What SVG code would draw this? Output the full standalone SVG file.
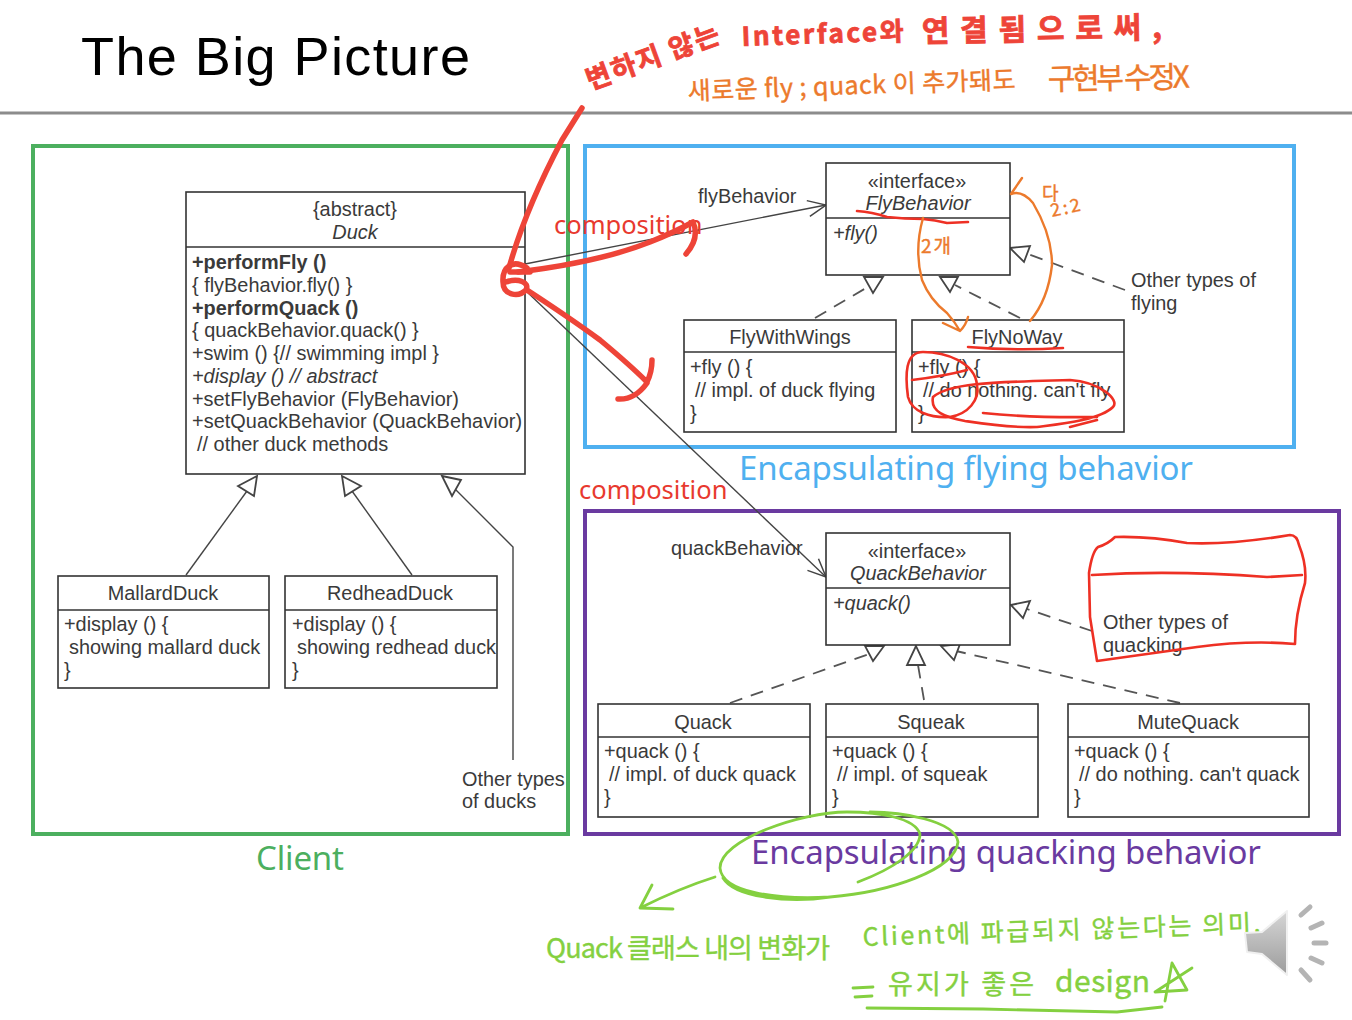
<svg xmlns="http://www.w3.org/2000/svg" width="1352" height="1020" viewBox="0 0 1352 1020">
<style>
text{font-family:"Liberation Sans",Arial,sans-serif;font-size:19.9px;fill:#3a3a3a}
.c{text-anchor:middle}.b{font-weight:bold}.i{font-style:italic}
.box{fill:#fff;stroke:#333;stroke-width:1.6}
.div{stroke:#333;stroke-width:1.6;fill:none}
.ln{stroke:#444;stroke-width:1.4;fill:none}
.ds{stroke:#555;stroke-width:1.8;fill:none;stroke-dasharray:13 9}
.tri{fill:#fff;stroke:#444;stroke-width:1.8}
.big{font-family:"Noto Sans","Open Sans",sans-serif;font-size:33px}
.comp{font-family:"Noto Sans","Open Sans",sans-serif;font-size:25.5px;fill:#e8392e}
.hw{font-family:"Noto Sans CJK KR","Noto Sans",sans-serif}
.red{fill:none;stroke:#ee4438;stroke-width:5.5;stroke-linecap:round;stroke-linejoin:round}
.rd2{fill:none;stroke:#ee3024;stroke-width:2.6;stroke-linecap:round;stroke-linejoin:round}
.or{fill:none;stroke:#ec7a2c;stroke-width:2.4;stroke-linecap:round;stroke-linejoin:round}
.gr{fill:none;stroke:#84d040;stroke-width:2.8;stroke-linecap:round;stroke-linejoin:round}
.rt{fill:#ee4438;stroke:#ee4438;stroke-width:.8;font-weight:bold}
.ot{fill:#ec7a2c;stroke:#ec7a2c;stroke-width:.4}
.gt{fill:#84d040;stroke:#84d040;stroke-width:.4}
</style>
<defs>
<linearGradient id="sp" x1="0" y1="0" x2="0" y2="1"><stop offset="0" stop-color="#d6d6d6"/><stop offset="1" stop-color="#9c9c9c"/></linearGradient>
<marker id="op" markerWidth="22" markerHeight="18" refX="19" refY="9" orient="auto" markerUnits="userSpaceOnUse"><path d="M1,1 L19,9 L1,17" fill="none" stroke="#444" stroke-width="1.5"/></marker>
</defs>
<rect width="1352" height="1020" fill="#fff"/>
<g id="title"><text x="81" y="75" style="font-size:54px;fill:#000" textLength="389">The Big Picture</text>
<line x1="0" y1="113" x2="1352" y2="113" stroke="#8c8c8c" stroke-width="3"/></g>
<g id="regions" fill="none" stroke-width="4">
<rect x="33" y="146" width="535" height="688" stroke="#4caf5f"/>
<rect x="585" y="146" width="709" height="301" stroke="#4fb0f0"/>
<rect x="585" y="511" width="754" height="323" stroke="#6a3aa0"/>
</g>
<g id="connectors">
<path class="ln" marker-end="url(#op)" d="M525,264 L826,205"/>
<path class="ln" marker-end="url(#op)" d="M525,290 L826,577"/>
<path class="ln" d="M186,575 L247,491"/><path class="ln" d="M412,575 L352,491"/>
<path class="ln" d="M513,760 L513,547 L454,488"/>
<path class="ds" d="M815,318 L866,288"/><path class="ds" d="M1020,318 L955,285"/>
<path class="ds" d="M1125,290 L1028,254"/><path class="ds" d="M1092,631 L1027,609"/>
<path class="ds" d="M730,703 L869,654"/><path class="ds" d="M924,700 L918,665"/>
<path class="ds" d="M1180,703 L956,651"/>
<polygon class="tri" points="257,476 238,486 254,496"/>
<polygon class="tri" points="342,476 361,486 345,496"/>
<polygon class="tri" points="442,476 461,480 452,496"/>
<polygon class="tri" points="864,277 883,277 873,293"/>
<polygon class="tri" points="940,277 958,277 950,292"/>
<polygon class="tri" points="1010,248 1030,246 1024,262"/>
<polygon class="tri" points="1011,605 1030,601 1023,618"/>
<polygon class="tri" points="865,646 884,646 873,661"/>
<polygon class="tri" points="916,646 907,665 925,665"/>
<polygon class="tri" points="941,646 960,644 954,660"/>
</g>
<g id="duck"><rect class="box" x="186" y="192" width="339" height="282"/><line class="div" x1="186" y1="247" x2="525" y2="247"/>
<text class="c" x="355" y="216">{abstract}</text><text class="c i" x="355" y="239">Duck</text>
<text class="b" x="192" y="269">+performFly ()</text>
<text x="192" y="292">{  flyBehavior.fly() }</text>
<text class="b" x="192" y="315">+performQuack ()</text>
<text x="192" y="337">{  quackBehavior.quack() }</text>
<text x="192" y="360">+swim () {// swimming impl }</text>
<text class="i" x="192" y="383">+display () // abstract</text>
<text x="192" y="406">+setFlyBehavior (FlyBehavior)</text>
<text x="192" y="428" textLength="330">+setQuackBehavior (QuackBehavior)</text>
<text x="197" y="451">// other duck methods</text></g>
<g id="mallard"><rect class="box" x="58" y="576" width="211" height="112"/><line class="div" x1="58" y1="610" x2="269" y2="610"/>
<text class="c" x="163" y="600">MallardDuck</text><text x="64" y="631">+display () {</text><text x="69" y="654">showing mallard duck</text><text x="64" y="677">}</text></g>
<g id="redhead"><rect class="box" x="285" y="576" width="212" height="112"/><line class="div" x1="285" y1="610" x2="497" y2="610"/>
<text class="c" x="390" y="600">RedheadDuck</text><text x="292" y="631">+display () {</text><text x="297" y="654">showing redhead duck</text><text x="292" y="677">}</text></g>
<g id="otherducks"><text x="462" y="786">Other types</text><text x="462" y="808">of ducks</text></g>
<g id="flybehavior"><rect class="box" x="826" y="163" width="184" height="112"/><line class="div" x1="826" y1="218" x2="1010" y2="218"/>
<text class="c" x="917" y="188">«interface»</text><text class="c i" x="918" y="210">FlyBehavior</text><text class="i" x="833" y="240">+fly()</text></g>
<g id="flywithwings"><rect class="box" x="684" y="320" width="212" height="112"/><line class="div" x1="684" y1="352" x2="896" y2="352"/>
<text class="c" x="790" y="344">FlyWithWings</text><text x="690" y="374">+fly () {</text><text x="695" y="397">// impl. of duck flying</text><text x="690" y="420">}</text></g>
<g id="flynoway"><rect class="box" x="912" y="320" width="212" height="112"/><line class="div" x1="912" y1="352" x2="1124" y2="352"/>
<text class="c" x="1017" y="344">FlyNoWay</text><text x="918" y="374">+fly () {</text><text x="923" y="397">// do nothing. can't fly</text><text x="918" y="420">}</text></g>
<g id="labels">
<text x="698" y="203">flyBehavior</text><text x="671" y="555">quackBehavior</text>
<text x="1131" y="287">Other types of</text><text x="1131" y="310">flying</text>
<text x="1103" y="629">Other types of</text><text x="1103" y="652">quacking</text>
<text class="comp" x="554" y="234">composition</text><text class="comp" x="579" y="499">composition</text>
<text class="big" x="739" y="480" style="fill:#4fb0f0" textLength="454">Encapsulating flying behavior</text>
<text class="big" x="256" y="870" style="fill:#4caf5f" textLength="88">Client</text>
<text class="big" x="751" y="864" style="fill:#6a3aa0" textLength="510">Encapsulating quacking behavior</text>
</g>
<g id="quackbehavior"><rect class="box" x="826" y="533" width="184" height="112"/><line class="div" x1="826" y1="588" x2="1010" y2="588"/>
<text class="c" x="917" y="558">«interface»</text><text class="c i" x="918" y="580">QuackBehavior</text><text class="i" x="833" y="610">+quack()</text></g>
<g id="quack"><rect class="box" x="598" y="704" width="212" height="113"/><line class="div" x1="598" y1="737" x2="810" y2="737"/>
<text class="c" x="703" y="729">Quack</text><text x="604" y="758">+quack () {</text><text x="609" y="781">// impl. of duck quack</text><text x="604" y="804">}</text></g>
<g id="squeak"><rect class="box" x="826" y="704" width="212" height="113"/><line class="div" x1="826" y1="737" x2="1038" y2="737"/>
<text class="c" x="931" y="729">Squeak</text><text x="832" y="758">+quack () {</text><text x="837" y="781">// impl. of squeak</text><text x="832" y="804">}</text></g>
<g id="mutequack"><rect class="box" x="1068" y="704" width="241" height="113"/><line class="div" x1="1068" y1="737" x2="1309" y2="737"/>
<text class="c" x="1188" y="729">MuteQuack</text><text x="1074" y="758">+quack () {</text><text x="1079" y="781">// do nothing. can't quack</text><text x="1074" y="804">}</text></g>
<g id="ink-red">
<path class="red" d="M582,108 L562,140 Q525,210 509,268"/>
<path class="red" d="M527,268 C512,258 502,268 503,282 C503,295 518,298 526,290 C530,282 518,278 506,282 M510,272 L530,272"/>
<path class="red" d="M518,272 Q600,262 650,242 Q675,232 693,222 Q700,238 686,254"/>
<path class="red" d="M527,290 Q570,318 600,340 Q630,365 647,382 Q652,372 652,360 M647,383 Q635,400 618,399"/>
<path class="rd2" d="M857,211 Q872,212 887,217 Q905,219 923,219 Q935,220 947,223 L968,222"/>
<path class="rd2" d="M968,347 Q1015,351 1063,348"/>
<path class="rd2" d="M912,380 Q945,376 967,370 M977,385 C975,362 945,352 923,352 C905,352 905,375 908,397 C912,412 930,418 950,417 C968,414 980,400 977,385"/>
<path class="rd2" d="M933,397 C950,382 1000,382 1070,380 C1100,382 1120,400 1113,407 C1100,420 1060,424 1037,427 C1010,428 985,424 965,421 C945,417 930,412 933,397 M983,413 Q1030,418 1097,417 M1097,420 L1070,427"/>
<path class="rd2" d="M1115,537 Q1150,536 1187,543 Q1230,545 1290,535 Q1297,535 1299,545 Q1307,565 1305,583 Q1295,615 1295,644 Q1250,640 1197,647 L1097,661 L1090,617 L1089,573 Q1092,552 1098,547 Q1108,544 1115,537 Z M1092,575 Q1173,570 1267,577 L1302,575"/>
<text class="hw rt" transform="translate(590,90) rotate(-20)" style="font-size:27px" textLength="140">변하지 않는</text>
<text class="hw rt" transform="translate(742,46) rotate(-2)" style="font-size:26px" textLength="162">Interface와</text>
<text class="hw rt" transform="translate(922,42) rotate(-1)" style="font-size:30px" textLength="240">연결됨으로써,</text>
</g>
<g id="ink-orange">
<path class="or" d="M923,218 Q914,250 922,280 Q930,300 947,313 Q955,322 960,331 M943,323 L960,331 Q966,325 968,317"/>
<path class="or" d="M1030,321 Q1048,300 1052,265 Q1052,235 1033,203 Q1022,190 1011,194 M1011,194 L1022,178"/>
<text class="hw ot" x="688" y="100" transform="rotate(-2 688 100)" style="font-size:25px" textLength="328">새로운 fly ; quack 이 추가돼도</text>
<text class="hw ot" x="1048" y="90" transform="rotate(-1 1048 90)" style="font-size:30px" textLength="142">구현부 수정X</text>
<text class="hw ot" x="921" y="253" style="font-size:19px" textLength="30">2개</text>
<text class="hw ot" x="1042" y="200" style="font-size:18px" textLength="24">다</text>
<text class="hw ot" x="1052" y="217" transform="rotate(-12 1052 217)" style="font-size:18px" textLength="30">2:2</text>
</g>
<g id="ink-green">
<path class="gr" d="M858,882 C895,868 920,850 920,834 C915,818 880,812 847,812 C800,812 720,840 720,868 C722,892 775,900 830,897 C890,892 955,870 958,842 C955,820 900,812 870,812 M723,878 C735,898 790,903 830,897"/>
<path class="gr" d="M715,877 Q680,888 640,908 M652,885 L640,908 L673,909"/>
<path class="gr" d="M867,1008 L983,1009 L1117,1012 L1162,1007 M853,988 L873,987 M855,997 L872,996"/>
<path class="gr" d="M1165,1001 L1172,963 L1187,990 L1155,992 L1192,968"/>
<text class="hw gt" x="546" y="958" style="font-size:27px" textLength="284">Quack 클래스 내의 변화가</text>
<text class="hw gt" x="863" y="946" transform="rotate(-2 863 946)" style="font-size:25px" textLength="398">Client에 파급되지 않는다는 의미.</text>
<text class="hw gt" x="888" y="994" style="font-size:27px" textLength="146">유지가 좋은</text>
<text class="hw gt" x="1055" y="992" style="font-size:30px" textLength="95">design</text>
</g>
<g id="speaker">
<polygon points="1245,933 1262,932 1287,911 1287,975 1262,954 1247,952" fill="url(#sp)" stroke="#f0f0f0" stroke-width="2" stroke-linejoin="round"/>
<g stroke="#b4b4b4" stroke-width="5" stroke-linecap="round"><line x1="1310" y1="907" x2="1301" y2="915"/><line x1="1322" y1="923" x2="1311" y2="928"/><line x1="1326" y1="943" x2="1314" y2="943"/><line x1="1322" y1="963" x2="1311" y2="958"/><line x1="1310" y1="980" x2="1301" y2="970"/></g>
</g>
</svg>
